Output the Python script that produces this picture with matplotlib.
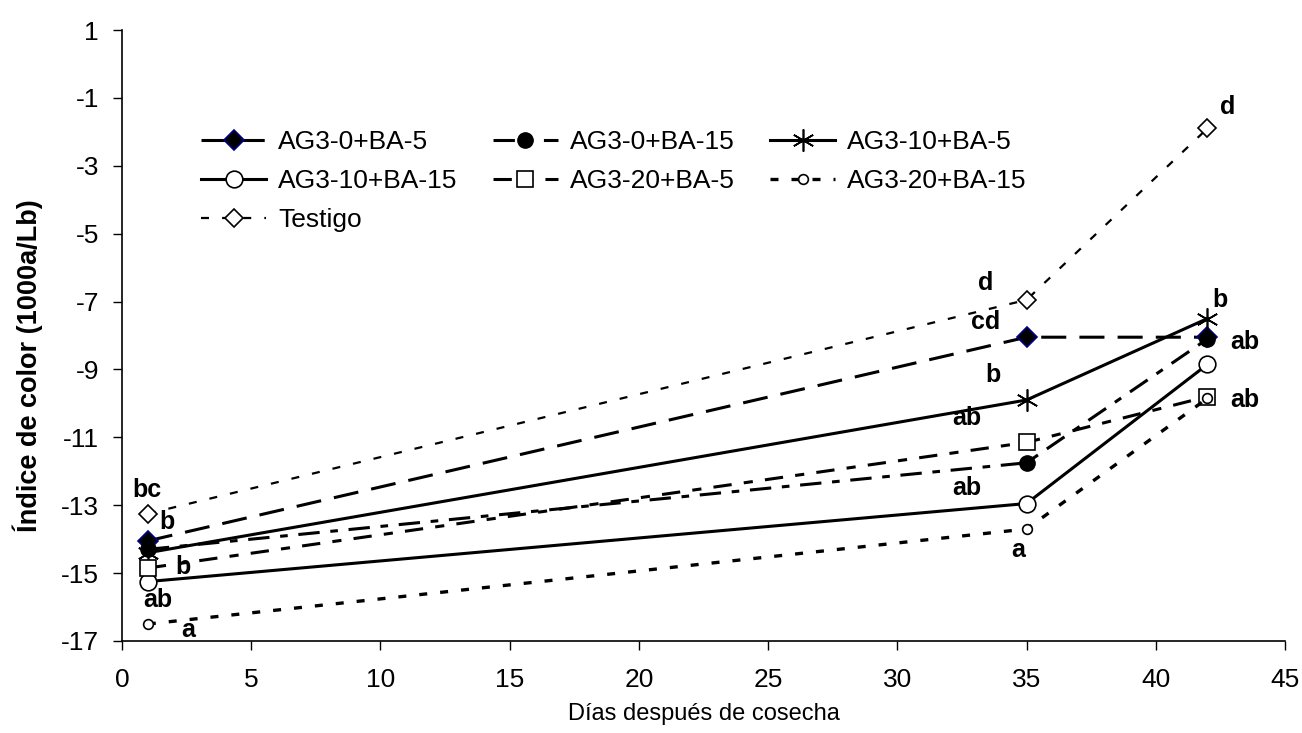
import matplotlib
matplotlib.use('Agg')
import matplotlib.pyplot as plt
from matplotlib.ticker import FuncFormatter

plt.rcParams['font.family'] = ['Liberation Sans', 'DejaVu Sans']

# datos
dias = [1, 35, 42]
ag0_ba5 = [-14.05, -8.05, -8.05]
ag0_ba15 = [-14.3, -11.75, -8.1]
ag10_ba5 = [-14.4, -9.9, -7.5]
ag10_ba15 = [-15.25, -12.95, -8.85]
ag20_ba5 = [-14.85, -11.15, -9.8]
ag20_ba15 = [-16.5, -13.7, -9.85]
testigo = [-13.25, -6.95, -1.9]

# letras de significancia (x, y, texto)
letras = [
    (0.97, -12.55, 'bc'), (1.74, -13.5, 'b'), (2.36, -14.82, 'b'),
    (1.39, -15.79, 'ab'), (2.55, -16.68, 'a'),
    (33.4, -6.45, 'd'), (33.4, -7.6, 'cd'), (33.7, -9.16, 'b'),
    (32.7, -10.43, 'ab'), (32.7, -12.5, 'ab'), (34.67, -14.32, 'a'),
    (42.8, -1.27, 'd'), (42.5, -6.96, 'b'), (43.46, -8.19, 'ab'),
    (43.46, -9.9, 'ab'),
]

fig = plt.figure(figsize=(13.02, 7.33), dpi=100)
ax = fig.add_axes([122 / 1302, 1 - 641 / 733, (1285 - 122) / 1302, (641 - 30) / 733])

l1, = ax.plot(dias, ag0_ba5, color='black', lw=2.2, linestyle=(0, (8.2, 4.3)),
              marker='D', ms=10, mfc='black', mec='#000080', mew=1.2, label='AG3-0+BA-5')
l2, = ax.plot(dias, ag0_ba15, color='black', lw=2.2, linestyle=(0, (7, 3.5, 2.5, 3.5)),
              marker='o', ms=11, mfc='black', mec='black', label='AG3-0+BA-15')
l3, = ax.plot(dias, ag10_ba5, color='black', lw=2.2, linestyle='-',
              marker=(6, 2, 0), ms=16, mfc='none', mec='black', mew=1.2, label='AG3-10+BA-5')
l4, = ax.plot(dias, ag10_ba15, color='black', lw=2.2, linestyle='-',
              marker='o', ms=12, mfc='white', mec='black', mew=1.2, label='AG3-10+BA-15')
l5, = ax.plot(dias, ag20_ba5, color='black', lw=2.2, linestyle=(0, (6, 4, 3, 4)),
              marker='s', ms=11, mfc='white', mec='black', mew=1.2, label='AG3-20+BA-5')
l6, = ax.plot(dias, ag20_ba15, color='black', lw=2.4, linestyle=(0, (2.4, 3.9)),
              marker='o', ms=7, mfc='white', mec='black', mew=1.2, label='AG3-20+BA-15')
l7, = ax.plot(dias, testigo, color='black', lw=1.6, linestyle=(0, (3.6, 5.9)),
              marker='D', ms=9, mfc='white', mec='black', mew=1.2, label='Testigo')

for x, y, t in letras:
    ax.text(x, y, t, fontsize=18, fontweight='bold', ha='center', va='center')

ax.set_xlim(0, 45)
ax.set_ylim(-17, 1)
ax.set_xticks(range(0, 46, 5))
ax.set_yticks(range(-17, 2, 2))
ax.yaxis.set_major_formatter(FuncFormatter(lambda v, p: '%d' % v if v >= 0 else '-%d' % abs(v)))
ax.tick_params(axis='both', labelsize=19, direction='out', length=6.5, width=1)
ax.tick_params(axis='x', pad=13)
ax.tick_params(axis='y', pad=10)
ax.spines['top'].set_visible(False)
ax.spines['right'].set_visible(False)
ax.spines['left'].set_linewidth(1.2)
ax.spines['bottom'].set_linewidth(1.2)

ax.set_xlabel('Días después de cosecha', fontsize=17, labelpad=8)
ax.set_ylabel('Índice de color (1000a/Lb)', fontsize=19.5, fontweight='bold')
ax.yaxis.set_label_coords(-0.068, 0.45)

# orden por columnas para que las filas queden como en el original
handles = [l1, l4, l7, l2, l5, l3, l6]
ax.legend(handles=handles, labels=[h.get_label() for h in handles],
          loc='upper left', bbox_to_anchor=(188 / 1302, 1 - 117 / 733),
          bbox_transform=fig.transFigure, ncol=3, frameon=False, fontsize=19,
          handlelength=2.46, handletextpad=0.45, columnspacing=1.35, labelspacing=0.56,
          borderpad=0)

fig.savefig('out.png', dpi=100)
